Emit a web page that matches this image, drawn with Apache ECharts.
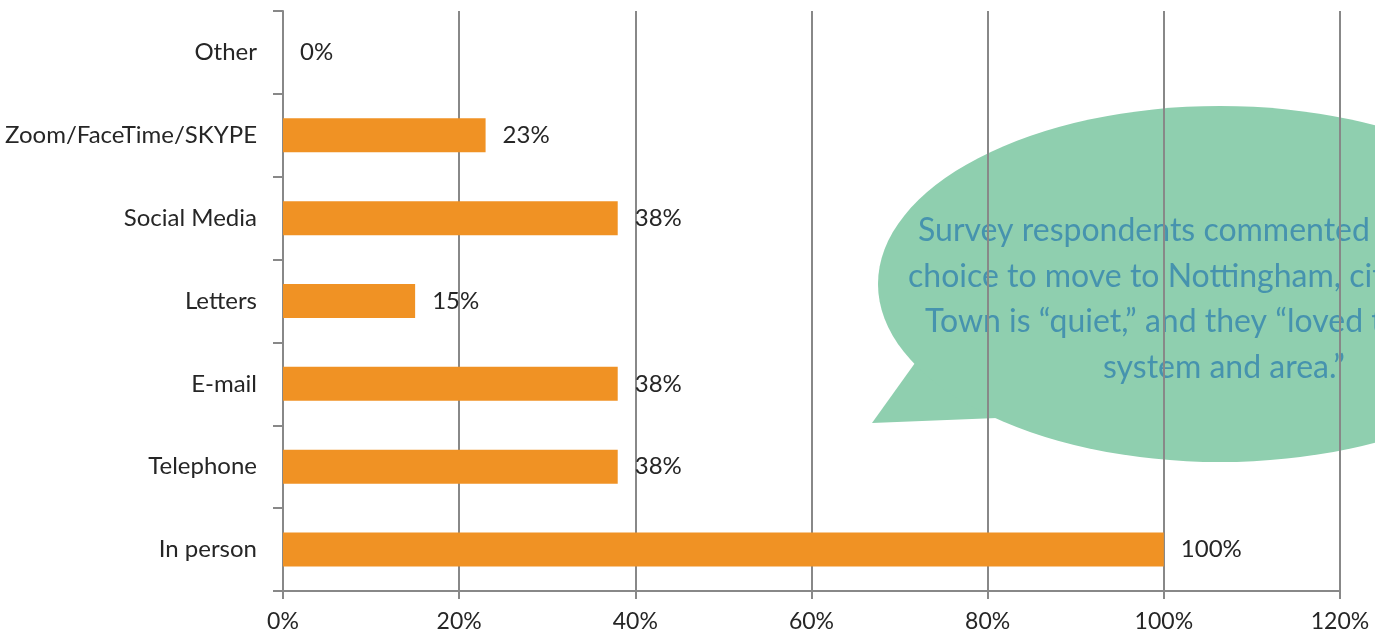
<!DOCTYPE html>
<html>
<head>
<meta charset="utf-8">
<title>Communication methods</title>
<script src="https://cdn.jsdelivr.net/npm/echarts@6/dist/echarts.min.js"></script>
<style>
  html, body { margin: 0; padding: 0; background: #ffffff; }
  #chart { width: 1375px; height: 639px; }
</style>
</head>
<body>
<div id="chart"></div>
<script>
// Categories listed bottom-to-top, as the category axis draws them
var categories = ['In person', 'Telephone', 'E-mail', 'Letters', 'Social Media', 'Zoom/FaceTime/SKYPE', 'Other'];
// Share of respondents using each method (%)
var shares = [100, 38, 38, 15, 38, 23, 0];
// Value axis ticks (%)
var axisMin = 0, axisMax = 120, axisStep = 20;

// Quote shown in the speech bubble, one entry per line
var quoteLines = [
  'Survey respondents commented on their',
  'choice to move to Nottingham, citing that',
  'Town is \u201Cquiet,\u201D and they \u201Cloved the school',
  'system and area.\u201D'
];
// Left edge of each quote line inside the bubble
var quoteLineX = [918, 908, 925, 1103];

var FONT = 'Lato, "Open Sans", sans-serif';
var GREY = '#888888';
var TEXT = '#262626';
var BUBBLE = '#8FCFAF';

var chart = echarts.init(document.getElementById('chart'), null, { renderer: 'canvas' });

var bubbleCx = 1220, bubbleCy = 284, bubbleRx = 342, bubbleRy = 178;

var bubbleChildren = [
  {
    type: 'polygon',
    shape: { points: [[915, 363], [872, 423], [997, 418], [1060, 330]] },
    style: { fill: BUBBLE }
  },
  {
    type: 'circle',
    x: bubbleCx,
    y: bubbleCy,
    scaleX: bubbleRx / bubbleRy,
    shape: { cx: 0, cy: 0, r: bubbleRy },
    style: { fill: BUBBLE }
  }
];
quoteLines.forEach(function (line, i) {
  bubbleChildren.push({
    type: 'text',
    x: quoteLineX[i],
    y: 231 + i * 45.5,
    style: {
      text: line,
      align: 'left',
      verticalAlign: 'middle',
      fill: '#4693AE',
      fontFamily: FONT,
      fontSize: 32
    }
  });
});

chart.setOption({
  animation: false,
  backgroundColor: '#ffffff',
  grid: { left: 283, right: 35, top: 11, bottom: 48, containLabel: false },
  xAxis: {
    type: 'value',
    min: axisMin,
    max: axisMax,
    interval: axisStep,
    axisLine: { show: true, lineStyle: { color: GREY, width: 2 } },
    axisTick: { show: true, length: 8, lineStyle: { color: GREY, width: 2 } },
    splitLine: { show: true, lineStyle: { color: GREY, width: 2 } },
    axisLabel: {
      formatter: '{value}%',
      color: TEXT,
      fontFamily: FONT,
      fontSize: 23,
      margin: 19
    }
  },
  yAxis: {
    type: 'category',
    data: categories,
    axisLine: { show: true, lineStyle: { color: GREY, width: 2 } },
    axisTick: { show: true, length: 10, lineStyle: { color: GREY, width: 2 } },
    splitLine: { show: false },
    axisLabel: {
      color: TEXT,
      fontFamily: FONT,
      fontSize: 24,
      margin: 26
    }
  },
  series: [{
    type: 'bar',
    data: shares,
    barWidth: 34,
    itemStyle: { color: '#F09224' },
    label: {
      show: true,
      position: 'right',
      distance: 17,
      formatter: function (p) { return p.value + '%'; },
      color: TEXT,
      fontFamily: FONT,
      fontSize: 24
    }
  }],
  graphic: [{
    type: 'group',
    z: 100,
    children: bubbleChildren
  }]
});
</script>
</body>
</html>
